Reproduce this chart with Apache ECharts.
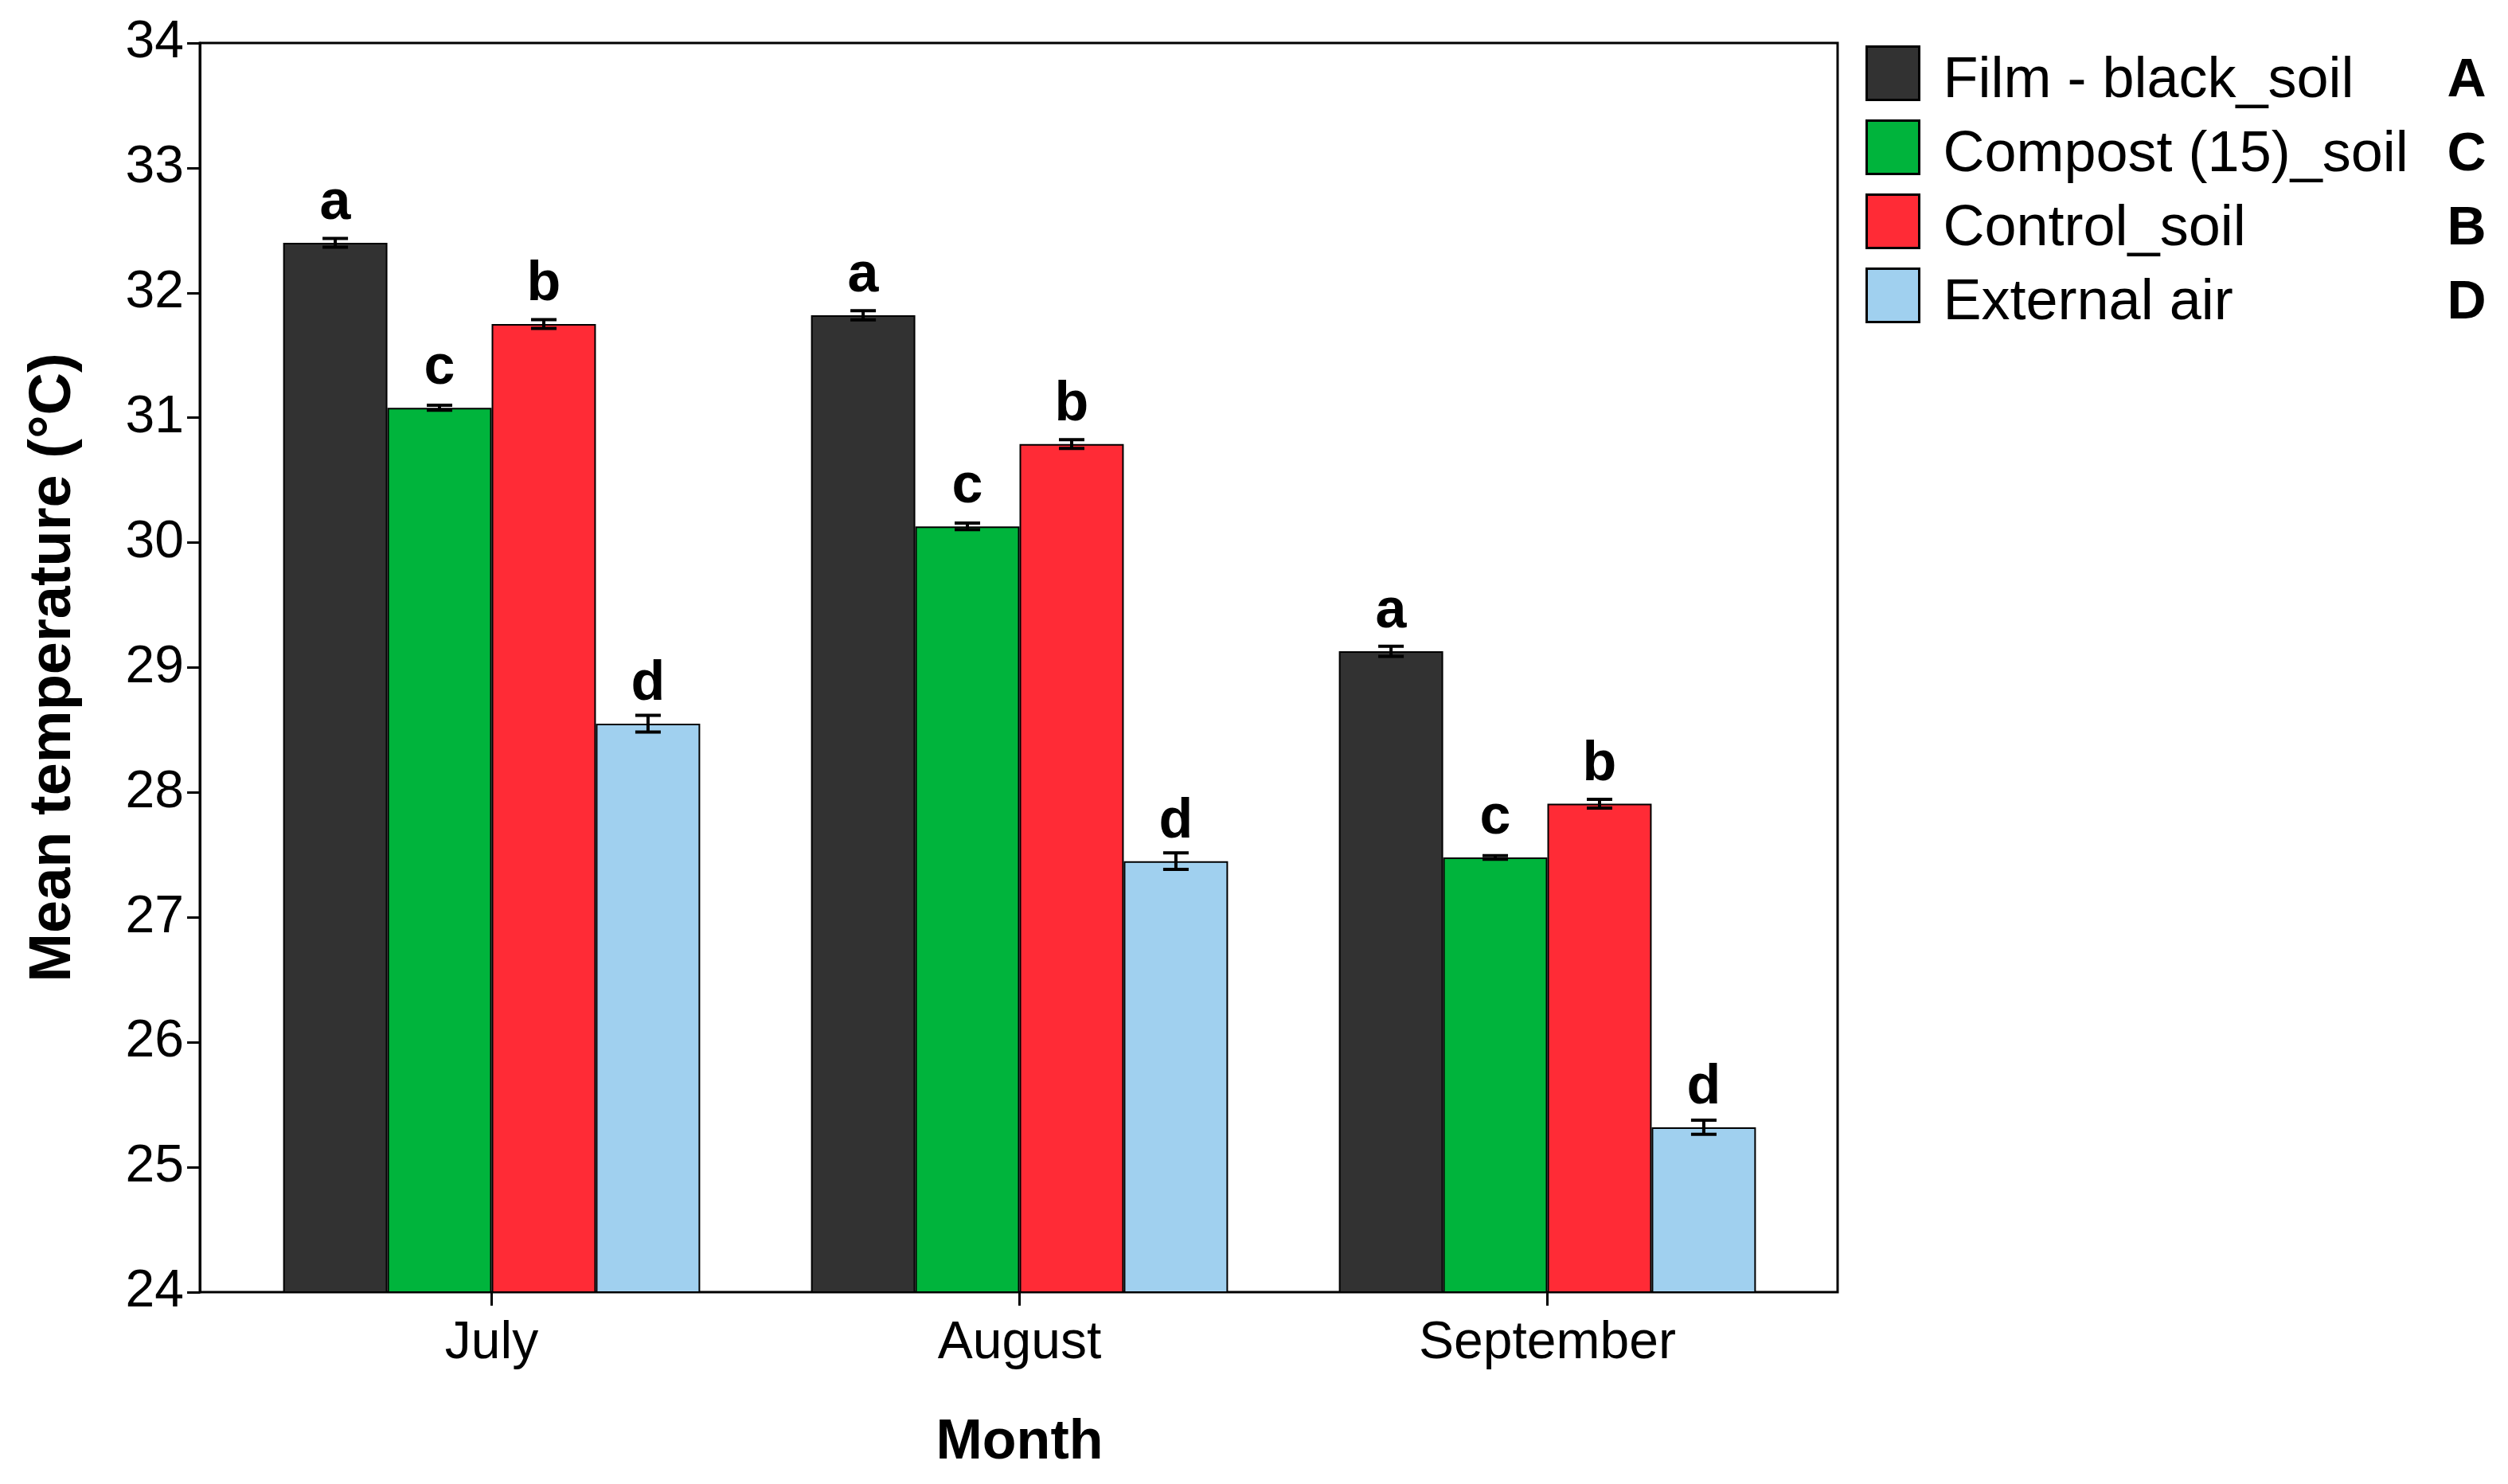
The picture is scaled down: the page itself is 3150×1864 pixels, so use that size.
<!DOCTYPE html>
<html>
<head>
<meta charset="utf-8">
<script src="https://cdn.jsdelivr.net/npm/echarts@6/dist/echarts.min.js"></script>
<style>
html,body{margin:0;padding:0;background:#fff;}
#chart{width:3150px;height:1864px;}
</style>
</head>
<body>
<div id="chart"></div>
<script>
// ---- data ----
const months = ['July', 'August', 'September'];
const seriesNames = ['Film - black_soil', 'Compost (15)_soil', 'Control_soil', 'External air'];
const filmBlack = [32.40, 31.82, 29.13];
const compost15 = [31.08, 30.13, 27.48];
const controlSoil = [31.75, 30.79, 27.91];
const externalAir = [28.55, 27.45, 25.32];
const filmBlackErr = [0.035, 0.037, 0.040];
const compost15Err = [0.020, 0.026, 0.015];
const controlSoilErr = [0.035, 0.035, 0.035];
const externalAirErr = [0.067, 0.066, 0.056];
const filmBlackLetters = ['a', 'a', 'a'];
const compost15Letters = ['c', 'c', 'c'];
const controlSoilLetters = ['b', 'b', 'b'];
const externalAirLetters = ['d', 'd', 'd'];
const legendLetters = ['A', 'C', 'B', 'D'];
const yTicks = {min: 24, max: 34, interval: 1};

// ---- styling ----
const FONT = '"Liberation Sans", Arial, Helvetica, sans-serif';
const colors = ['#323232', '#00b43c', '#ff2b36', '#a0d0ef'];
const catGap = 0.21;
const values = [filmBlack, compost15, controlSoil, externalAir];
const errs = [filmBlackErr, compost15Err, controlSoilErr, externalAirErr];
const letters = [filmBlackLetters, compost15Letters, controlSoilLetters, externalAirLetters];

const chart = echarts.init(document.getElementById('chart'), null, {renderer: 'canvas'});

const barSeries = seriesNames.map((name, i) => ({
  name: name,
  type: 'bar',
  xAxisIndex: 1,
  yAxisIndex: 1,
  data: values[i],
  barGap: '0%',
  barCategoryGap: (catGap * 100) + '%',
  itemStyle: {color: colors[i], borderColor: '#000', borderWidth: 2},
  label: {
    show: true,
    position: 'top',
    distance: 14,
    fontFamily: FONT,
    fontWeight: 'bold',
    fontSize: 70,
    color: '#000',
    formatter: p => letters[i][p.dataIndex]
  },
  emphasis: {disabled: true},
  z: 2
}));

const errSeries = seriesNames.map((name, i) => ({
  type: 'custom',
  xAxisIndex: 1,
  yAxisIndex: 1,
  z: 5,
  silent: true,
  encode: {x: 0, y: 1},
  data: values[i].map((v, k) => [k, v, errs[i][k]]),
  renderItem: function (params, api) {
    const cat = api.value(0), m = api.value(1), e = api.value(2);
    const cw = api.size([1, 0])[0];
    const bw = cw * (1 - catGap) / 4;
    const x = api.coord([cat, m])[0] + (i - 1.5) * bw;
    const yT = api.coord([cat, m + e])[1];
    const yB = api.coord([cat, m - e])[1];
    const hw = 16;
    const st = {stroke: '#000', lineWidth: 4};
    return {
      type: 'group',
      children: [
        {type: 'line', shape: {x1: x, y1: yT, x2: x, y2: yB}, style: st},
        {type: 'line', shape: {x1: x - hw, y1: yT, x2: x + hw, y2: yT}, style: st},
        {type: 'line', shape: {x1: x - hw, y1: yB, x2: x + hw, y2: yB}, style: st}
      ]
    };
  }
}));

const option = {
  backgroundColor: '#fff',
  animation: false,
  grid: [
    {left: 251, right: 842, top: 54, bottom: 241, show: true, borderColor: '#000', borderWidth: 3, backgroundColor: 'transparent'},
    {left: 286, right: 875, top: 54, bottom: 241}
  ],
  legend: {
    orient: 'vertical',
    left: 2338,
    top: 41,
    itemWidth: 66,
    itemHeight: 67,
    itemGap: 1,
    icon: 'rect',
    selectedMode: false,
    data: seriesNames,
    itemStyle: {borderColor: '#000', borderWidth: 3},
    formatter: function (name) {
      const idx = seriesNames.indexOf(name);
      return '{n|' + name + '}{g|' + legendLetters[idx] + '}';
    },
    textStyle: {
      fontFamily: FONT,
      color: '#000',
      rich: {
        n: {fontFamily: FONT, fontSize: 72, color: '#000', width: 633, padding: [20, 0, 0, 25], lineHeight: 67},
        g: {fontFamily: FONT, fontSize: 68, fontWeight: 'bold', color: '#000', padding: [20, 0, 0, 0], lineHeight: 67}
      }
    }
  },
  xAxis: [
    {type: 'category', gridIndex: 0, data: months, show: false},
    {
      type: 'category',
      gridIndex: 1,
      data: months,
      axisLine: {show: false},
      axisTick: {show: true, alignWithLabel: true, length: 17, lineStyle: {color: '#000', width: 3}},
      axisLabel: {fontFamily: FONT, fontSize: 66, color: '#000', margin: 32},
      name: 'Month',
      nameLocation: 'middle',
      nameGap: 155,
      nameTextStyle: {fontFamily: FONT, fontSize: 70, fontWeight: 'bold', color: '#000'}
    }
  ],
  yAxis: [
    {
      type: 'value',
      gridIndex: 0,
      min: yTicks.min,
      max: yTicks.max,
      interval: yTicks.interval,
      splitLine: {show: false},
      axisLine: {show: true, lineStyle: {color: '#000', width: 3}},
      axisTick: {show: true, length: 16, lineStyle: {color: '#000', width: 3}},
      axisLabel: {fontFamily: FONT, fontSize: 66, color: '#000', margin: 20, padding: [22, 0, 0, 0]},
      name: 'Mean temperature (°C)',
      nameLocation: 'middle',
      nameGap: 146,
      nameTextStyle: {fontFamily: FONT, fontSize: 74, fontWeight: 'bold', color: '#000'}
    },
    {type: 'value', gridIndex: 1, min: yTicks.min, max: yTicks.max, interval: yTicks.interval, show: false, splitLine: {show: false}}
  ],
  series: barSeries.concat(errSeries)
};

chart.setOption(option);
</script>
</body>
</html>
